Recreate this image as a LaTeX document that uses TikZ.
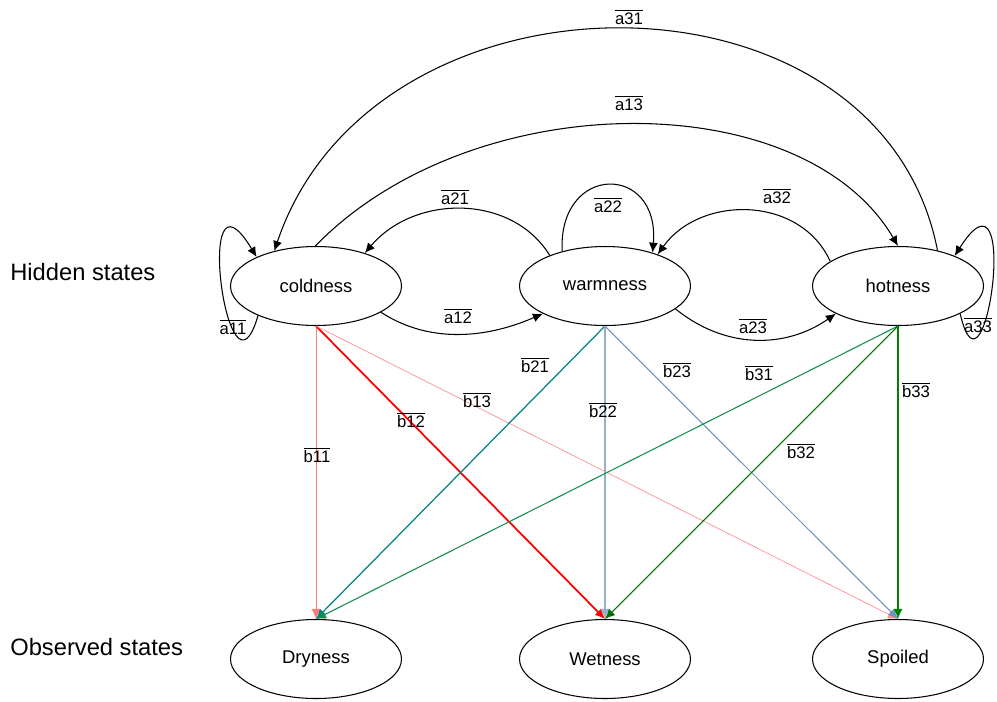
\documentclass[tikz,border=0pt]{standalone}
\usepackage{fontspec}
\setmainfont{Liberation Sans}
\usetikzlibrary{shapes.geometric,arrows.meta}

\definecolor{bpink}{RGB}{255,120,120}
\definecolor{bred}{RGB}{255,0,0}
\definecolor{blightred}{RGB}{255,145,145}
\definecolor{bteal}{RGB}{0,130,130}
\definecolor{bsteel}{RGB}{150,175,205}
\definecolor{bblue}{RGB}{110,145,190}
\definecolor{bsea}{RGB}{20,140,80}
\definecolor{bdkgreen}{RGB}{0,110,0}
\definecolor{bgreen}{RGB}{0,128,0}

\newcommand{\prb}[1]{$\overline{\mbox{#1}}$}

\begin{document}
\begin{tikzpicture}[x=0.02cm,y=-0.02cm,
	state/.style={ellipse,draw,line width=0.6pt,minimum width=3.42cm,minimum height=1.58cm,inner sep=0pt,font=\fontsize{10.5}{12}\selectfont},
	trans/.style={line width=0.6pt,-{Latex[length=2mm,width=1.8mm]}},
	emit/.style={-{Latex[length=2mm,width=1.8mm]}},
	prob/.style={font=\fontsize{9.5}{11}\selectfont,inner sep=1pt},
	side/.style={anchor=west,inner sep=0pt,font=\fontsize{13.5}{15}\selectfont}]
		\useasboundingbox (0,0) rectangle (997,701);
		% states
		\node[state] (cold) at (316,286) {coldness};
		\node[state] (warm) at (605,286) {warmness};
		\node[state] (hot)  at (898,286) {hotness};
		\node[state] (dry)  at (316,659) {Dryness};
		\node[state] (wet)  at (605,659) {Wetness};
		\node[state] (spoil) at (898,659) {Spoiled};
		\node[side] (hidden) at (10,272) {Hidden states};
		\node[side] (observed) at (10,647) {Observed states};
		% emissions
		\foreach \src/\dst/\col/\wd in {cold/dry/bpink/0.5pt, cold/wet/bred/1pt, cold/spoil/blightred/0.4pt,
			warm/dry/bteal/0.7pt, warm/wet/bsteel/0.7pt, warm/spoil/bblue/0.6pt,
			hot/dry/bsea/0.6pt, hot/wet/bdkgreen/0.6pt, hot/spoil/bgreen/0.7pt}
		\draw[emit,draw=\col,line width=\wd] (\src.south) -- (\dst.north);
		% transitions
		\draw[trans] (cold.207) .. controls (228,420) and (192,150) .. (cold.154);
		\draw[trans] (cold.338) .. controls (425,341) and (480,341) .. (warm.204);
		\draw[trans] (warm.151) .. controls (512,194) and (415,194) .. (cold.34);
		\draw[trans] (warm.141) .. controls (558,163) and (660,163) .. (warm.35);
		\draw[trans] (warm.342) .. controls (725,349) and (785,349) .. (hot.204);
		\draw[trans] (hot.160) .. controls (800,195) and (700,195) .. (warm.31);
		\draw[trans] (hot.336) .. controls (985,420) and (1022,150) .. (hot.28);
		\draw[trans] (cold.91) .. controls (473,84) and (803,84) .. (hot.90);
		\draw[trans] (hot.42) .. controls (880,-45) and (374,-45) .. (cold.140);
		% labels
		\node[prob] (a31) at (629,17)  {\prb{a31}};
		\node[prob] (a13) at (629,103) {\prb{a13}};
		\node[prob] (a21) at (455,197) {\prb{a21}};
		\node[prob] (a22) at (608,205) {\prb{a22}};
		\node[prob] (a32) at (777,196) {\prb{a32}};
		\node[prob] (a12) at (458,316) {\prb{a12}};
		\node[prob] (a23) at (753,326) {\prb{a23}};
		\node[prob] (a11) at (233,327) {\prb{a11}};
		\node[prob] (a33) at (978,325) {\prb{a33}};
		\node[prob] (b11) at (317,455) {\prb{b11}};
		\node[prob] (b12) at (411,420) {\prb{b12}};
		\node[prob] (b13) at (477,400) {\prb{b13}};
		\node[prob] (b21) at (535,365) {\prb{b21}};
		\node[prob] (b22) at (603,410) {\prb{b22}};
		\node[prob] (b23) at (677,370) {\prb{b23}};
		\node[prob] (b31) at (759,373) {\prb{b31}};
		\node[prob] (b32) at (801,451) {\prb{b32}};
		\node[prob] (b33) at (916,390) {\prb{b33}};
	\end{tikzpicture}
\end{document}
